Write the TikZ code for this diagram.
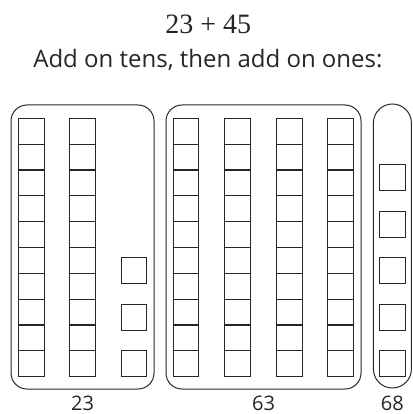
\documentclass[tikz,border=0pt]{standalone}
\usepackage{fontspec}
\setsansfont{Open Sans}
\newfontfamily\sumfont{Liberation Serif}
\usetikzlibrary{positioning}

\begin{document}
\begin{tikzpicture}[x=1pt, y=-1pt,
      group/.style={draw=black!85, line width=1pt, rounded corners=16pt, inner sep=0pt, minimum height=284pt},
      unit/.style={draw=black!85, line width=1.1pt, minimum size=25.8pt, inner sep=0pt},
      total/.style={font=\sffamily\fontsize{20}{22}\selectfont, text=black!85, anchor=base, inner sep=0pt}]
      \useasboundingbox (0,0) rectangle (412,414);
      \node[font=\sumfont\fontsize{28}{32}\selectfont, text=black!85, anchor=base] (sum) at (208.3,33.3) {23 + 45};
      \node[font=\sffamily\fontsize{24}{28}\selectfont, text=black!85, anchor=base] (hint) at (207.9,67.3)
        {Add on tens, then add on ones:};
      % groups
      \node[group, minimum width=143pt] (boxA) at (82.5,247) {};
      \node[group, minimum width=195pt] (boxB) at (263.5,247) {};
      \node[group, minimum width=38pt, rounded corners=19pt] (boxC) at (392.4,246) {};
      % tens
      \foreach \c/\i in {1/0,2/1,3/3,4/4,5/5,6/6}
        \foreach \k in {0,...,9}
          \node[unit] (ten\c-\k) at (31.2+51.6*\i, 131.2+25.84*\k) {};
      % ones
      \foreach \k in {0,1,2}
        \node[unit] (oneA-\k) at (134,363.7-46.5*\k) {};
      \foreach \k in {0,...,4}
        \node[unit] (oneC-\k) at (392.7,363.7-46.5*\k) {};
      % totals
      \node[total] (sumA) at (boxA.south |- 0,410) {23};
      \node[total] (sumB) at (boxB.south |- 0,410) {63};
      \node[total] (sumC) at (boxC.south |- 0,410) {68};
    \end{tikzpicture}
\end{document}
